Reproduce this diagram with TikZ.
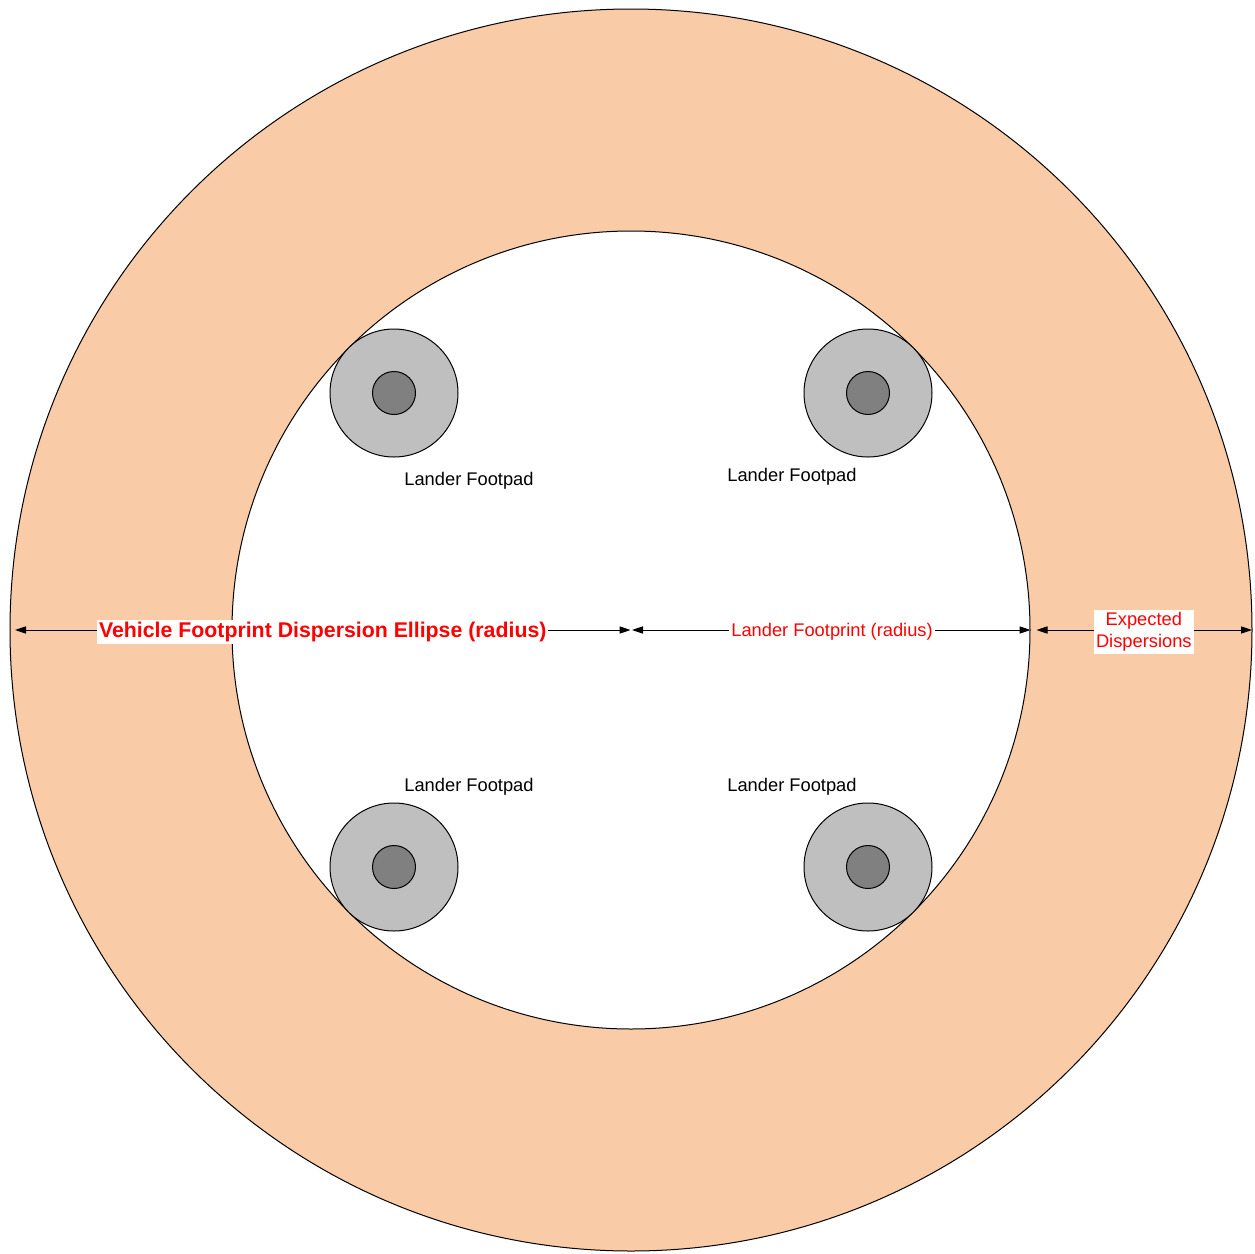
\documentclass[tikz,border=0pt]{standalone}
\usepackage{fontspec}
\setmainfont{Liberation Sans}
\usetikzlibrary{arrows.meta}
\definecolor{peach}{RGB}{249,203,167}
\tikzset{
	padlabel/.style={font=\fontsize{9.15}{11}\selectfont, text=black},
	dimlabel/.style={fill=white, inner sep=1pt, text=red, font=\fontsize{9.15}{11}\selectfont},
	dimarrow/.style={line width=0.5pt, {Triangle[length=5.5pt,width=3.6pt]}-{Triangle[length=5.5pt,width=3.6pt]}},
	padouter/.style={line width=0.5pt, fill=black!25},
	padinner/.style={line width=0.5pt, fill=black!50}
}

\begin{document}
\begin{tikzpicture}[x=0.5pt, y=-0.5pt]
	%%%%% START %%%%%
	\useasboundingbox (0, 0) rectangle (1255, 1254);
	
	% dispersion ring and footprint
	\draw[line width=0.5pt, fill=peach] (631, 630) circle (621);
	\draw[line width=0.5pt, fill=white] (631, 630) circle (399);
	
	% footpads
	\draw[padouter] (394, 393) circle (64);
	\draw[padinner] (394, 393) circle (21.5);
	
	\draw[padouter] (868, 393) circle (64);
	\draw[padinner] (868, 393) circle (21.5);
	
	\draw[padouter] (394, 867) circle (64);
	\draw[padinner] (394, 867) circle (21.5);
	
	\draw[padouter] (868, 867) circle (64);
	\draw[padinner] (868, 867) circle (21.5);
	
	\node[padlabel] (padA) at (469, 481) {Lander Footpad};
	\node[padlabel] (padB) at (792, 477) {Lander Footpad};
	\node[padlabel] (padC) at (469, 787) {Lander Footpad};
	\node[padlabel] (padD) at (792, 787) {Lander Footpad};
	
	% radius dimensions
	\coordinate (outerW) at (15, 630);
	\coordinate (centreL) at (630.5, 630);
	\coordinate (centreR) at (632, 630);
	\coordinate (innerE) at (1030.5, 630);
	\coordinate (ringW) at (1036.5, 630);
	\coordinate (outerE) at (1252, 630);
	
	\draw[dimarrow] (outerW) -- node[dimlabel, pos=0.500, yshift=-1pt, font=\bfseries\fontsize{10.65}{12}\selectfont] (vehicle) {Vehicle Footprint Dispersion Ellipse (radius)} (centreL);
	\draw[dimarrow] (centreR) -- node[dimlabel, pos=0.502, yshift=-1pt] (lander) {Lander Footprint (radius)} (innerE);
	\draw[dimarrow] (ringW) -- node[dimlabel, pos=0.498, yshift=-1pt, align=center] (expected) {Expected\\Dispersions} (outerE);
	
	%%%%% END %%%%%
\end{tikzpicture}
\end{document}
